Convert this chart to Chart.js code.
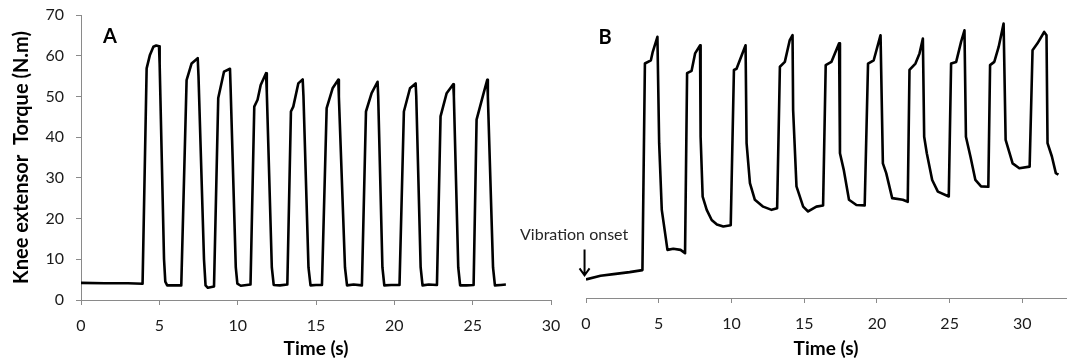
<!DOCTYPE html>
<html>
<head>
<meta charset="utf-8">
<script src="https://cdn.jsdelivr.net/npm/chart.js@4"></script>
<style>
body { margin: 0; background: #fff; }
#wrapA { position: absolute; left: 0; top: 0; width: 570px; height: 363px; }
#wrapB { position: absolute; left: 480px; top: 0; width: 598px; height: 363px; }
</style>
</head>
<body>
<div id="wrapA"><canvas id="chartA"></canvas></div>
<div id="wrapB"><canvas id="chartB"></canvas></div>
<script>
// panel A - torque trace (time in s, torque in N.m)
var timeA = [0, 1.5, 3.0, 3.93, 4.19, 4.40, 4.62, 4.80, 4.98, 5.02, 5.30, 5.38, 5.50, 6.0, 6.40,
    6.74, 7.06, 7.45, 7.50, 7.85, 7.95, 8.10, 8.49,
    8.76, 9.13, 9.51, 9.55, 9.88, 9.98, 10.2, 10.82,
    11.06, 11.27, 11.47, 11.81, 11.86, 12.18, 12.30, 12.7, 13.17,
    13.40, 13.55, 13.87, 14.15, 14.20, 14.52, 14.65, 15.0, 15.38,
    15.68, 16.06, 16.42, 16.46, 16.85, 16.98, 17.4, 17.93,
    18.19, 18.55, 18.93, 18.97, 19.24, 19.36, 19.8, 20.33,
    20.61, 21.00, 21.36, 21.40, 21.68, 21.80, 22.2, 22.72,
    22.95, 23.34, 23.76, 23.80, 24.08, 24.20, 24.6, 25.06,
    25.25, 25.67, 25.93, 25.97, 26.30, 26.42, 26.8, 27.12];
var torqueA = [4.2, 4.1, 4.1, 4.0, 56.9, 60.2, 62.2, 62.5, 62.3, 58, 10, 4.5, 3.6, 3.6, 3.6,
    54.0, 58.1, 59.4, 55, 10, 3.6, 3.0, 3.3,
    49.6, 56.1, 56.8, 52, 8, 4.0, 3.5, 3.8,
    47.5, 49.2, 52.8, 55.7, 51, 8, 3.7, 3.6, 3.8,
    46.3, 47.5, 53.2, 54.2, 50, 8, 3.6, 3.7, 3.7,
    47.1, 52.0, 54.1, 50, 8, 3.6, 3.8, 3.6,
    46.3, 50.8, 53.6, 50, 8, 3.6, 3.7, 3.7,
    46.3, 52.0, 53.2, 50, 8, 3.6, 3.8, 3.7,
    45.1, 50.8, 53.0, 50, 8, 3.6, 3.6, 3.7,
    44.3, 50.4, 54.1, 50, 8, 3.6, 3.7, 3.8];

// panel B - torque trace with vibration
var timeB = [0, 1.0, 1.9, 3.0, 3.88, 4.05, 4.46, 4.59, 4.91, 5.03, 5.21, 5.44, 5.60, 6.0, 6.5, 6.81,
    6.95, 7.26, 7.50, 7.84, 7.88, 8.02, 8.30, 8.64, 9.0, 9.44, 9.95,
    10.17, 10.35, 10.97, 11.04, 11.27, 11.61, 12.18, 12.76, 13.14,
    13.33, 13.67, 14.01, 14.20, 14.24, 14.47, 14.93, 15.27, 15.84, 16.30,
    16.48, 16.87, 17.40, 17.46, 17.72, 18.08, 18.59, 19.16,
    19.39, 19.78, 20.25, 20.41, 20.64, 21.05, 21.78, 22.12,
    22.24, 22.65, 22.93, 23.16, 23.25, 23.43, 23.80, 24.19, 24.94,
    25.10, 25.45, 25.79, 26.02, 26.12, 26.43, 26.77, 27.16, 27.66,
    27.78, 28.07, 28.37, 28.71, 28.85, 29.33, 29.79, 30.50,
    30.70, 31.04, 31.50, 31.66, 31.73, 32.03, 32.30, 32.48];
var torqueB = [4.6, 5.5, 5.9, 6.4, 6.9, 58.0, 58.8, 60.9, 64.6, 38.3, 21.8, 16.0, 11.9, 12.2, 11.9, 11.1,
    55.6, 56.2, 60.5, 62.5, 39.9, 25.1, 21.8, 19.3, 18.2, 17.7, 18.0,
    56.4, 56.7, 62.5, 38.3, 28.4, 24.3, 22.6, 21.8, 22.2,
    57.2, 58.4, 63.8, 65.0, 46.5, 27.6, 22.6, 21.4, 22.6, 22.9,
    57.6, 58.4, 63.0, 35.8, 31.7, 24.3, 23.0, 22.9,
    58.0, 58.8, 65.0, 33.3, 30.9, 24.7, 24.3, 23.8,
    56.4, 58.0, 60.5, 64.2, 39.9, 35.8, 29.2, 26.3, 25.1,
    58.0, 58.4, 63.4, 66.2, 39.9, 35.0, 29.2, 27.6, 27.5,
    57.6, 58.4, 62.1, 67.9, 39.1, 33.3, 32.1, 32.5,
    61.3, 63.0, 65.8, 65.0, 38.3, 35.0, 30.9, 30.5];

var xTicks = [0, 5, 10, 15, 20, 25, 30];

var FONT = 'Lato, "Open Sans", sans-serif';
Chart.defaults.font.family = FONT;
Chart.defaults.color = '#1a1a1a';

function toPoints(xs, ys) {
    var pts = [];
    for (var i = 0; i < xs.length; i++) pts.push({x: xs[i], y: ys[i]});
    return pts;
}

function lineDataset(xs, ys) {
    return {
        data: toPoints(xs, ys),
        borderColor: '#000',
        borderWidth: 2.6,
        pointRadius: 0,
        tension: 0,
        borderJoinStyle: 'round',
        fill: false
    };
}

var axisGrey = '#8a8a8a';

function xAxis(max, height) {
    return {
        type: 'linear',
        min: 0,
        max: max,
        afterBuildTicks: function(scale) {
            scale.ticks = xTicks.map(function(v) { return {value: v}; });
        },
        afterFit: function(scale) {
            scale.height = height;
            scale.paddingLeft = 0;
            scale.paddingRight = 0;
        },
        border: {display: true, color: axisGrey, width: 1},
        grid: {drawOnChartArea: false, drawTicks: true, tickLength: 5, color: axisGrey},
        ticks: {font: {size: 16}, padding: 11, maxRotation: 0, color: '#1a1a1a'},
        title: {display: true, text: 'Time (s)', font: {size: 19, weight: 'bold'},
            padding: {top: 0, bottom: 3}, color: '#000'}
    };
}

// draws the panel letter and the optional onset marker
var panelText = {
    id: 'panelText',
    afterDraw: function(chart, args, opts) {
        var ctx = chart.ctx;
        var xs = chart.scales.x, ys = chart.scales.y;
        ctx.save();
        ctx.fillStyle = '#000';
        ctx.font = 'bold 20px ' + FONT;
        ctx.textAlign = 'center';
        ctx.textBaseline = 'middle';
        ctx.fillText(opts.letter, xs.getPixelForValue(opts.at[0]), ys.getPixelForValue(opts.at[1]));
        if (opts.onset) {
            ctx.font = '16px ' + FONT;
            ctx.fillStyle = '#262626';
            ctx.textAlign = 'right';
            ctx.fillText('Vibration onset', xs.getPixelForValue(2.9), ys.getPixelForValue(15.6));
            var ax = xs.getPixelForValue(-0.1);
            var y1 = ys.getPixelForValue(12.0), y2 = ys.getPixelForValue(5.6);
            ctx.strokeStyle = '#000';
            ctx.lineWidth = 2;
            ctx.beginPath();
            ctx.moveTo(ax, y1);
            ctx.lineTo(ax, y2);
            ctx.moveTo(ax - 5, y2 - 7);
            ctx.lineTo(ax, y2);
            ctx.lineTo(ax + 5, y2 - 7);
            ctx.stroke();
        }
        ctx.restore();
    }
};

new Chart(document.getElementById('chartA'), {
    type: 'line',
    data: {datasets: [lineDataset(timeA, torqueA)]},
    plugins: [panelText],
    options: {
        responsive: true,
        maintainAspectRatio: false,
        animation: false,
        layout: {padding: {top: 15, right: 19, left: 0, bottom: 0}},
        plugins: {legend: {display: false}, tooltip: {enabled: false},
            panelText: {letter: 'A', at: [1.85, 64.6]}},
        scales: {
            x: xAxis(30, 63),
            y: {
                min: 0, max: 70,
                afterFit: function(scale) {
                    scale.width = 81;
                    scale.paddingTop = 0;
                    scale.paddingBottom = 0;
                },
                border: {display: true, color: axisGrey, width: 1},
                grid: {drawOnChartArea: false, drawTicks: true, tickLength: 5, color: axisGrey},
                ticks: {stepSize: 10, font: {size: 16}, padding: 12, color: '#1a1a1a'},
                title: {display: true, text: 'Knee extensor  Torque (N.m)',
                    font: {size: 20, weight: 'bold'}, padding: {top: 10, bottom: 0}, color: '#000'}
            }
        }
    }
});

new Chart(document.getElementById('chartB'), {
    type: 'line',
    data: {datasets: [lineDataset(timeB, torqueB)]},
    plugins: [panelText],
    options: {
        responsive: true,
        maintainAspectRatio: false,
        animation: false,
        layout: {padding: {top: 15, right: 12, left: 106, bottom: 0}},
        plugins: {legend: {display: false}, tooltip: {enabled: false},
            panelText: {letter: 'B', at: [1.32, 64.5], onset: true}},
        scales: {
            x: xAxis(33, 65),
            y: {min: 0, max: 70, display: false}
        }
    }
});
</script>
</body>
</html>
